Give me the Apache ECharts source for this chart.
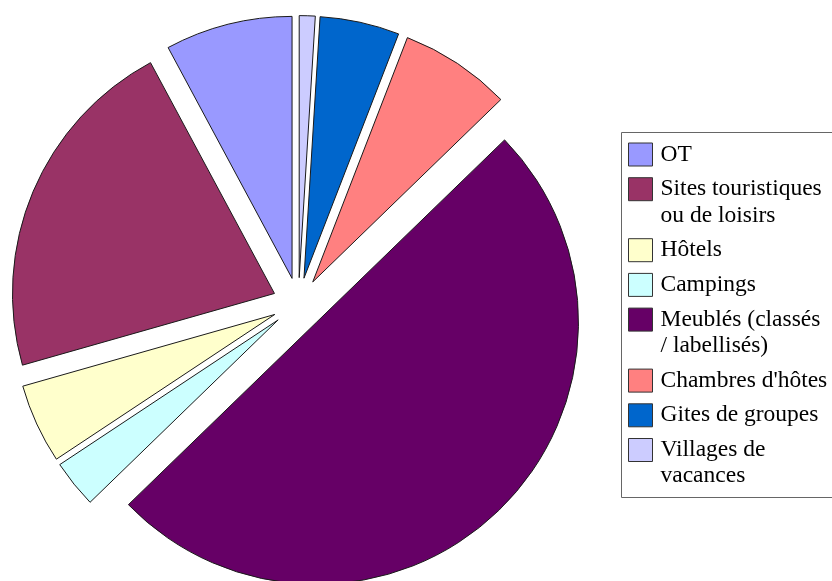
<!DOCTYPE html>
<html>
<head>
<meta charset="utf-8">
<script src="https://cdn.jsdelivr.net/npm/echarts@6/dist/echarts.min.js"></script>
<style>
html, body { margin: 0; padding: 0; background: #fff; }
#chart { width: 832px; height: 581px; }
</style>
</head>
<body>
<div id="chart"></div>
<script>
// ---- data ----
const categories = [
  'OT',
  'Sites touristiques ou de loisirs',
  'Hôtels',
  'Campings',
  'Meublés (classés / labellisés)',
  "Chambres d'hôtes",
  'Gites de groupes',
  'Villages de vacances'
];
const legendLabels = [
  'OT',
  'Sites touristiques\nou de loisirs',
  'Hôtels',
  'Campings',
  'Meublés (classés\n/ labellisés)',
  "Chambres d'hôtes",
  'Gites de groupes',
  'Villages de\nvacances'
];
const values = [8, 22, 5, 3, 51, 7, 5, 1];
const colors = ['#9999ff', '#993366', '#ffffcc', '#ccffff', '#660066', '#ff8080', '#0066cc', '#ccccff'];

// ---- styles / layout ----
const FONT = "'Liberation Serif', 'Times New Roman', serif";
const FS = 23.5;
const LH = 26.3;
const ICON_W = 24, ICON_H = 23;
const LEG_X = 628, LEG_Y0 = 143, ROW_STEP = 34.7;

const chart = echarts.init(document.getElementById('chart'), null, { renderer: 'canvas' });

const pieData = categories.map((name, i) => ({
  name: name,
  value: values[i],
  selected: true,
  itemStyle: { color: colors[i] }
}));

// one legend block per entry so that multi-line entries keep the icon on the first line
const legends = [];
let iconTop = LEG_Y0;
categories.forEach((name, i) => {
  const n = legendLabels[i].split('\n').length;
  const relTop = Math.min(-0.5, ICON_H / 2 - (2 * n - 1) * LH / 2);
  legends.push({
    orient: 'vertical',
    left: LEG_X,
    top: iconTop + relTop,
    padding: 0,
    itemWidth: ICON_W,
    itemHeight: ICON_H,
    icon: 'rect',
    selectedMode: false,
    itemStyle: { borderColor: '#333333', borderWidth: 1 },
    data: [{ name: name, textStyle: { padding: [(n - 1) * LH, 0, 0, 3] } }],
    formatter: function (nm) {
      const idx = categories.indexOf(nm);
      return legendLabels[idx].split('\n').map(s => '{t|' + s + '}').join('\n');
    },
    textStyle: {
      color: '#000000',
      fontFamily: FONT,
      fontSize: FS,
      lineHeight: LH,
      rich: {
        t: { color: '#000000', fontFamily: FONT, fontSize: FS, lineHeight: LH }
      }
    }
  });
  iconTop += ROW_STEP + (n - 1) * LH;
});

chart.setOption({
  animation: false,
  backgroundColor: '#ffffff',
  graphic: [{
    type: 'rect',
    z: -1,
    silent: true,
    shape: { x: 621.5, y: 132.5, width: 230, height: 365 },
    style: { fill: '#ffffff', stroke: '#666666', lineWidth: 1 }
  }],
  legend: legends,
  series: [{
    type: 'pie',
    center: [298.4, 303.6],
    radius: 262,
    startAngle: 90,
    clockwise: false,
    selectedMode: 'multiple',
    selectedOffset: 26,
    silent: true,
    avoidLabelOverlap: false,
    label: { show: false },
    labelLine: { show: false },
    emphasis: { disabled: true },
    itemStyle: { borderColor: '#1a1a1a', borderWidth: 1 },
    select: { itemStyle: { borderColor: '#1a1a1a', borderWidth: 1 } },
    data: pieData
  }]
});
</script>
</body>
</html>
